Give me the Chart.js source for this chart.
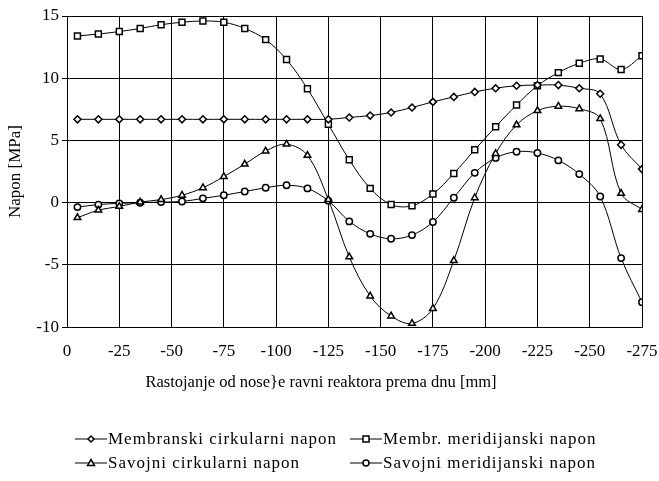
<!DOCTYPE html>
<html>
<head>
<meta charset="utf-8">
<script src="https://cdn.jsdelivr.net/npm/chart.js@4.4.1/dist/chart.umd.min.js"></script>
<style>
    html, body { margin: 0; padding: 0; background: #fff; }
    #wrap { position: relative; width: 659px; height: 481px; }
    #chart { position: absolute; left: 0; top: 0; }
    .legend { position: absolute; font-family: "Liberation Serif", "Times New Roman", serif; font-size: 17px; letter-spacing: 1px; color: #000; }
    .item { position: absolute; display: flex; align-items: center; white-space: nowrap; height: 20px; }
    .item svg { margin-right: 1px; }
</style>
</head>
<body>
<div id="wrap">
    <canvas id="chart" width="659" height="481"></canvas>
    <div class="legend" id="legend"></div>
</div>
<script>
// distance from the support plane [mm]
const distances = [-5, -15, -25, -35, -45, -55, -65, -75, -85, -95, -105, -115, -125, -135,
    -145, -155, -165, -175, -185, -195, -205, -215, -225, -235, -245, -255, -265, -275];

const membCirc = [6.7, 6.7, 6.7, 6.7, 6.7, 6.7, 6.7, 6.7, 6.7, 6.7, 6.7, 6.7, 6.7, 6.85,
    7.0, 7.25, 7.65, 8.1, 8.5, 8.9, 9.2, 9.4, 9.45, 9.45, 9.2, 8.75, 4.65, 2.7];

const membMerid = [13.4, 13.55, 13.75, 14.0, 14.3, 14.5, 14.6, 14.5, 14.0, 13.1, 11.5, 9.15, 6.3, 3.45,
    1.15, -0.15, -0.25, 0.7, 2.35, 4.25, 6.1, 7.85, 9.4, 10.45, 11.2, 11.55, 10.7, 11.8];

const savCirc = [-1.2, -0.6, -0.3, 0.05, 0.25, 0.6, 1.2, 2.1, 3.1, 4.15, 4.7, 3.8, 0.25, -4.35,
    -7.5, -9.1, -9.7, -8.5, -4.65, 0.4, 3.95, 6.25, 7.4, 7.75, 7.55, 6.75, 0.75, -0.55];

const savMerid = [-0.35, -0.15, -0.05, 0, 0.05, 0.1, 0.35, 0.6, 0.9, 1.2, 1.4, 1.15, 0.15, -1.5,
    -2.5, -2.9, -2.6, -1.55, 0.4, 2.4, 3.6, 4.1, 4.0, 3.4, 2.3, 0.5, -4.45, -8.0];

const seriesNames = [
    "Membranski cirkularni napon",
    "Membr. meridijanski napon",
    "Savojni cirkularni napon",
    "Savojni meridijanski napon"
];
const markers = ["rectRot", "rect", "triangle", "circle"];
const markerSizes = [3.5, 4.2, 3.8, 3.2];

const FONT = "'Liberation Serif', 'Times New Roman', serif";

function toPoints(values) {
    return values.map((v, i) => ({ x: distances[i], y: v }));
}

const datasets = [membCirc, membMerid, savCirc, savMerid].map((vals, i) => ({
    label: seriesNames[i],
    data: toPoints(vals),
    borderColor: '#000',
    borderWidth: 1,
    backgroundColor: '#fff',
    pointStyle: markers[i],
    pointRadius: markerSizes[i],
    pointBorderWidth: 1.5,
    pointBorderColor: '#000',
    pointBackgroundColor: '#fff',
    tension: 0.35,
    fill: false
}));

Chart.defaults.font.family = FONT;
Chart.defaults.color = '#000';

new Chart(document.getElementById('chart'), {
    type: 'line',
    data: { datasets },
    options: {
        responsive: false,
        animation: false,
        layout: { autoPadding: false, padding: { top: 16, right: 17, bottom: 88, left: 0 } },
        scales: {
            x: {
                type: 'linear',
                min: -275,
                max: 0,
                reverse: true,
                grid: { color: '#000', lineWidth: 1, drawTicks: false },
                border: { color: '#000', width: 1 },
                ticks: { stepSize: 25, font: { size: 17 }, padding: 14, maxRotation: 0 },
                afterFit: (s) => {
                    s.height = 32;
                    s.paddingLeft = 0;
                    s.paddingRight = 0;
                }
            },
            y: {
                min: -10,
                max: 15,
                grid: { color: '#000', lineWidth: 1, tickLength: 5 },
                border: { color: '#000', width: 1 },
                ticks: { stepSize: 5, font: { size: 17 }, padding: 3 },
                title: { display: true, text: 'Napon [MPa]', font: { size: 17 }, padding: { top: 5, bottom: 0 } },
                afterFit: (s) => {
                    s.width = 67;
                    s.paddingTop = 0;
                    s.paddingBottom = 0;
                }
            }
        },
        plugins: {
            legend: { display: false },
            tooltip: { enabled: false },
            title: {
                display: true,
                position: 'bottom',
                text: 'Rastojanje od nose}e ravni reaktora prema dnu [mm]',
                font: { size: 16.5, weight: 'normal' },
                color: '#000',
                padding: { top: 14, bottom: 0 }
            }
        }
    }
});

// legend laid out in two columns like the original
const legendPos = [
    { left: 75, top: 429 }, { left: 350, top: 429 },
    { left: 75, top: 453 }, { left: 350, top: 453 }
];

function markerSvg(style) {
    let m = '';
    if (style === 'rectRot') m = '<polygon points="16,3 19,6 16,9 13,6" fill="#fff" stroke="#000" stroke-width="1.5"/>';
    if (style === 'rect') m = '<rect x="13" y="3" width="6" height="6" fill="#fff" stroke="#000" stroke-width="1.5"/>';
    if (style === 'triangle') m = '<polygon points="16,2.5 19.5,8.5 12.5,8.5" fill="#fff" stroke="#000" stroke-width="1.5"/>';
    if (style === 'circle') m = '<circle cx="16" cy="6" r="3" fill="#fff" stroke="#000" stroke-width="1.5"/>';
    return '<svg width="32" height="12" viewBox="0 0 32 12"><line x1="0" y1="6" x2="32" y2="6" stroke="#000" stroke-width="1"/>' + m + '</svg>';
}

const legendEl = document.getElementById('legend');
seriesNames.forEach((name, i) => {
    const div = document.createElement('div');
    div.className = 'item';
    div.style.left = legendPos[i].left + 'px';
    div.style.top = legendPos[i].top + 'px';
    div.innerHTML = markerSvg(markers[i]) + '<span>' + name + '</span>';
    legendEl.appendChild(div);
});
</script>
</body>
</html>
